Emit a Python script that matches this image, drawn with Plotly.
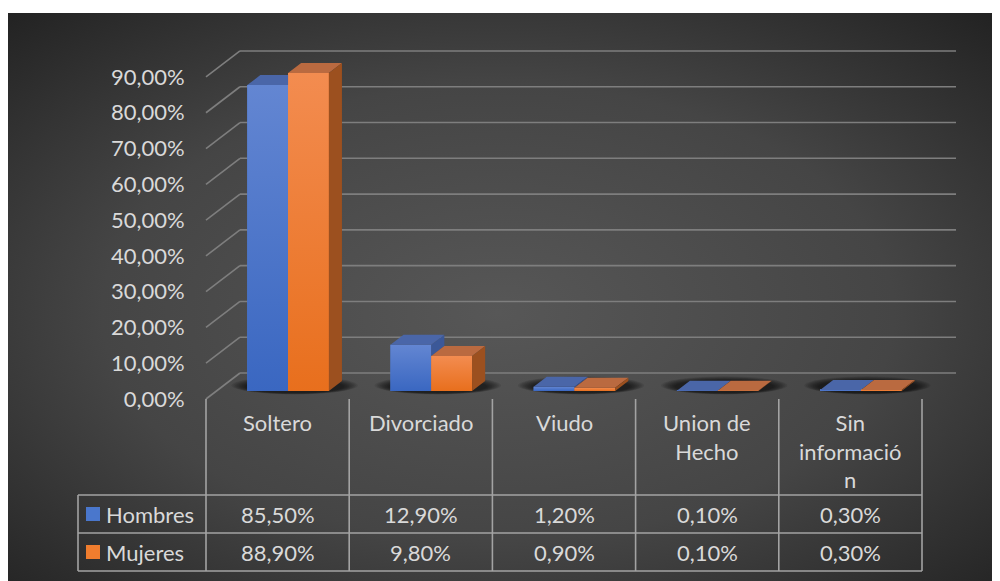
import base64
import plotly.graph_objects as go

# ---------------- data ----------------
categories = ["Soltero", "Divorciado", "Viudo", "Union de Hecho", "Sin información"]
category_labels = ["Soltero", "Divorciado", "Viudo", "Union de<br>Hecho", "Sin<br>informació<br>n"]
series_names = ["Hombres", "Mujeres"]
hombres = [85.5, 12.9, 1.2, 0.1, 0.3]
mujeres = [88.9, 9.8, 0.9, 0.1, 0.3]
tick_values = [0, 10, 20, 30, 40, 50, 60, 70, 80, 90]
tick_text = [f"{v:.2f}".replace(".", ",") + "%" for v in tick_values]

# ---------------- style / layout constants ----------------
W_PX, H_PX = 1000, 581
PAGE_OFF = 8                     # browser body margin
DARK_TOP = 13                    # screenshot px where dark area starts
PX_PER_CAT = 143.2               # px per category unit
PX_PER_PCT = 3.578               # px per percent
FRONT_LEFT_PX = 206              # screenshot px of x = -0.5 on front plane
ZERO_PX = 399                    # screenshot px of y = 0 on front plane

DX = 34 / PX_PER_CAT             # full depth offset (x, data units)
DY = 26 / PX_PER_PCT             # full depth offset (y, data units)
D0 = 0.3077                      # bar depth start (fraction)
DB = 0.385                       # bar depth thickness (fraction)
BW = 0.285                       # bar width (category units)

S = D0 * DX                      # x shift of bar plane
B = D0 * DY                      # base of bars (floor at bar depth)
E = DB * DX                      # depth of bar in x
F = DB * DY                      # depth of bar in y

BLUE = "#4a77cc"
BLUE_LIGHT = "#6386d2"
BLUE_DARK = "#3a67c1"
BLUE_TOP = "#4a66a8"
BLUE_SIDE = "#3b5898"
ORANGE = "#f07d2e"
ORANGE_LIGHT = "#f38c50"
ORANGE_DARK = "#e86f1d"
ORANGE_TOP = "#ba6a40"
ORANGE_SIDE = "#9c501f"
TXT = "#d9d9d9"
GRID = "#7e7e7e"
TABLE_LINE = "#a3a3a3"
FONT = "Lato"
FS = 22


def xd(px):
    return -0.5 + (px - FRONT_LEFT_PX) / PX_PER_CAT


def yd(px):
    return (ZERO_PX - px) / PX_PER_PCT


x_range = [xd(PAGE_OFF), xd(PAGE_OFF + W_PX)]
y_range = [yd(PAGE_OFF + H_PX), yd(DARK_TOP)]

fig = go.Figure()

# ---------------- front faces (bars) ----------------
xs = [i + S for i in range(len(categories))]
fig.add_trace(go.Bar(x=xs, y=hombres, base=B, width=BW, offset=-BW,
                     marker=dict(color=BLUE, line=dict(width=0)),
                     name=series_names[0], showlegend=False))
fig.add_trace(go.Bar(x=xs, y=mujeres, base=B, width=BW, offset=0,
                     marker=dict(color=ORANGE, line=dict(width=0)),
                     name=series_names[1], showlegend=False))


def poly_xy(polys):
    px, py = [], []
    for p in polys:
        for (a, b) in p:
            px.append(a)
            py.append(b)
        px.append(p[0][0])
        py.append(p[0][1])
        px.append(None)
        py.append(None)
    return px, py


def poly_trace(polys, color):
    px, py = poly_xy(polys)
    return go.Scatter(x=px, y=py, mode="lines", fill="toself", fillcolor=color,
                      line=dict(width=0, color=color), hoverinfo="skip",
                      showlegend=False)


# gradient shading of each front face (same geometry as the bars)
for i, (vb, vo) in enumerate(zip(hombres, mujeres)):
    for (x0, x1, v, lo, hi) in [(i + S - BW, i + S, vb, BLUE_DARK, BLUE_LIGHT),
                                (i + S, i + S + BW, vo, ORANGE_DARK, ORANGE_LIGHT)]:
        px, py = poly_xy([[(x0, B), (x1, B), (x1, B + v), (x0, B + v)]])
        fig.add_trace(go.Scatter(x=px, y=py, mode="lines", fill="toself",
                                 fillgradient=dict(type="vertical",
                                                   colorscale=[[0, lo], [1, hi]]),
                                 line=dict(width=0), hoverinfo="skip", showlegend=False))

blue_top, blue_side, or_top, or_side = [], [], [], []
for i, (vb, vo) in enumerate(zip(hombres, mujeres)):
    xl = i + S - BW
    xm = i + S
    xr = i + S + BW
    hb = B + vb
    ho = B + vo
    if vo > vb:
        blue_top.append([(xl, hb), (xm, hb), (xm, hb + F), (xl + E, hb + F)])
    else:
        blue_top.append([(xl, hb), (xm, hb), (xm + E, hb + F), (xl + E, hb + F)])
        if vb > vo:
            blue_side.append([(xm, ho), (xm, hb), (xm + E, hb + F), (xm + E, ho + F)])
    or_top.append([(xm, ho), (xr, ho), (xr + E, ho + F), (xm + E, ho + F)])
    or_side.append([(xr, B), (xr, ho), (xr + E, ho + F), (xr + E, B + F)])

fig.add_trace(poly_trace(blue_side, BLUE_SIDE))
fig.add_trace(poly_trace(blue_top, BLUE_TOP))
fig.add_trace(poly_trace(or_top, ORANGE_TOP))
fig.add_trace(poly_trace(or_side, ORANGE_SIDE))

shapes = []
# ---------------- soft shadows under bars ----------------
for i in range(len(categories)):
    cx0 = i + S - BW
    cx1 = i + S + BW + E
    for k in range(9):
        pad = 0.11 - k * 0.012
        padv = 1.3 - k * 0.13
        shapes.append(dict(type="circle", xref="x", yref="y", layer="below",
                           x0=cx0 - pad, x1=cx1 + pad,
                           y0=B - 0.5 - padv * 0.35, y1=B + F + padv,
                           fillcolor="black", opacity=0.085, line=dict(width=0)))

# ---------------- back wall gridlines + left diagonals ----------------
for v in tick_values:
    shapes.append(dict(type="line", xref="x", yref="y", layer="below",
                       x0=-0.5 + DX, x1=len(categories) - 0.5 + DX, y0=v + DY, y1=v + DY,
                       line=dict(color=GRID, width=1.6)))
    shapes.append(dict(type="line", xref="x", yref="y", layer="below",
                       x0=-0.5, x1=-0.5 + DX, y0=v, y1=v + DY,
                       line=dict(color=GRID, width=1.6)))

# ---------------- data table ----------------
row_lines_px = [495, 533, 571]
table_left = xd(78)
n = len(categories)
for i in range(n + 1):
    shapes.append(dict(type="line", xref="x", yref="y", layer="above",
                       x0=i - 0.5, x1=i - 0.5, y0=0, y1=yd(row_lines_px[-1]),
                       line=dict(color=TABLE_LINE, width=1.6)))
for p in row_lines_px:
    shapes.append(dict(type="line", xref="x", yref="y", layer="above",
                       x0=table_left, x1=n - 0.5, y0=yd(p), y1=yd(p),
                       line=dict(color=TABLE_LINE, width=1.6)))
shapes.append(dict(type="line", xref="x", yref="y", layer="above",
                   x0=table_left, x1=table_left, y0=yd(row_lines_px[0]), y1=yd(row_lines_px[-1]),
                   line=dict(color=TABLE_LINE, width=1.6)))

annotations = []
for i, lab in enumerate(category_labels):
    annotations.append(dict(x=i, y=yd(407), xref="x", yref="y", text=lab,
                            showarrow=False, yanchor="top", xanchor="center",
                            font=dict(family=FONT, size=FS, color=TXT)))


def fmt(v):
    return f"{v:.2f}".replace(".", ",") + "%"


row_centers = [(row_lines_px[0] + row_lines_px[1]) / 2, (row_lines_px[1] + row_lines_px[2]) / 2]
for r, (vals, name, col) in enumerate(zip([hombres, mujeres], series_names, [BLUE, ORANGE])):
    yc = yd(row_centers[r])
    for i, v in enumerate(vals):
        annotations.append(dict(x=i, y=yc, xref="x", yref="y", text=fmt(v),
                                showarrow=False, xanchor="center", yanchor="middle",
                                font=dict(family=FONT, size=FS, color=TXT)))
    annotations.append(dict(x=xd(104), y=yc, xref="x", yref="y", text=name,
                            showarrow=False, xanchor="left", yanchor="middle",
                            font=dict(family=FONT, size=FS, color=TXT)))
    shapes.append(dict(type="rect", xref="x", yref="y", layer="above",
                       x0=xd(86), x1=xd(100), y0=yc - 7 / PX_PER_PCT, y1=yc + 7 / PX_PER_PCT,
                       fillcolor=col, line=dict(width=0)))

# ---------------- background gradient ----------------
bw, bh = W_PX, H_PX + PAGE_OFF - DARK_TOP
svg = (f"<svg xmlns='http://www.w3.org/2000/svg' width='{bw}' height='{bh}' "
       f"viewBox='0 0 {bw} {bh}' preserveAspectRatio='none'>"
       "<defs><radialGradient id='g' cx='0.49' cy='0.52' r='0.72'>"
       "<stop offset='0' stop-color='#575757'/>"
       "<stop offset='0.55' stop-color='#454545'/>"
       "<stop offset='1' stop-color='#222222'/>"
       "</radialGradient></defs>"
       f"<rect width='{bw}' height='{bh}' fill='url(#g)'/></svg>")
src = "data:image/svg+xml;base64," + base64.b64encode(svg.encode()).decode()

fig.update_layout(
    width=W_PX, height=H_PX,
    margin=dict(l=0, r=0, t=DARK_TOP - PAGE_OFF, b=0, pad=0),
    paper_bgcolor="white",
    plot_bgcolor="rgba(0,0,0,0)",
    barmode="overlay",
    showlegend=False,
    shapes=shapes,
    annotations=annotations,
    images=[dict(source=src, xref="paper", yref="paper", x=0, y=1, sizex=1, sizey=1,
                 xanchor="left", yanchor="top", sizing="stretch", layer="below")],
    xaxis=dict(range=x_range, showgrid=False, zeroline=False, showticklabels=False,
               showline=False, ticks="", fixedrange=True),
    yaxis=dict(range=y_range, showgrid=False, zeroline=False, showline=False,
               tickvals=tick_values, ticktext=tick_text,
               ticks="outside", ticklen=17, tickcolor="rgba(0,0,0,0)",
               anchor="free", position=(FRONT_LEFT_PX - PAGE_OFF) / W_PX,
               tickfont=dict(family=FONT, size=FS, color=TXT), fixedrange=True),
)

fig.write_html("out.html")
